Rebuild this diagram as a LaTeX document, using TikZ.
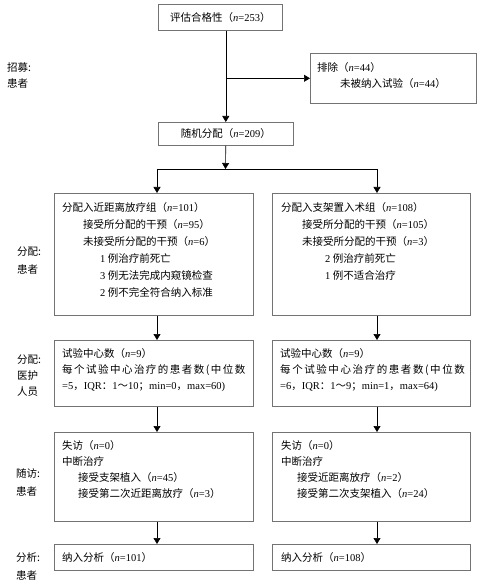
\documentclass[tikz,border=0pt]{standalone}
\usepackage{fontspec}
\setmainfont{Noto Sans CJK SC}
\newfontfamily\latin{Liberation Serif}
\usetikzlibrary{arrows.meta}
\newcommand\nn[1]{{\latin\textit{n}=#1}}
\newcommand\lat[1]{{\latin #1}}

\begin{document}
\begin{tikzpicture}[x=1pt,y=-1pt,
    every node/.style={font=\fontsize{10.5}{16}\selectfont},
    box/.style={draw=black!55,line width=.6pt,inner sep=0pt,anchor=north west},
    txt/.style={inner sep=0pt,align=left,anchor=north west},
    side/.style={inner sep=0pt,align=left,anchor=north west},
    arr/.style={-{Triangle[width=7pt,length=6pt]},line width=.6pt}]
\useasboundingbox (0,0) rectangle (482,585);
% arrow columns
\coordinate (colA) at (157,0);
\coordinate (colB) at (377,0);

% recruitment
\node[box,minimum width=124,minimum height=26] (elig) at (158,4) {评估合格性（\nn{253}）};
\node[box,minimum width=166,minimum height=50] (excl) at (310,53) {};
\node[txt] (excltxt) at ([shift={(7,9)}]excl.north west)
    {排除（\nn{44}）\\ \hspace*{23pt}未被纳入试验（\nn{44}）};
\node[box,minimum width=135,minimum height=23] (rand) at (158,122) {随机分配（\nn{209}）};
\coordinate (split) at (225.5,169);

% allocation
\node[box,minimum width=199,minimum height=122] (allocA) at (54,193) {};
\node[box,minimum width=198,minimum height=122] (allocB) at (272,193) {};
\node[txt,font=\fontsize{10.5}{17}\selectfont] (allocAtxt) at ([shift={(8,9)}]allocA.north west)
    {分配入近距离放疗组（\nn{101}）\\
     \hspace*{21pt}接受所分配的干预（\nn{95}）\\
     \hspace*{21pt}未接受所分配的干预（\nn{6}）\\
     \hspace*{38pt}\lat{1} 例治疗前死亡\\
     \hspace*{38pt}\lat{3} 例无法完成内窥镜检查\\
     \hspace*{38pt}\lat{2} 例不完全符合纳入标准};
\node[txt,font=\fontsize{10.5}{17}\selectfont] (allocBtxt) at ([shift={(9,9)}]allocB.north west)
    {分配入支架置入术组（\nn{108}）\\
     \hspace*{21pt}接受所分配的干预（\nn{105}）\\
     \hspace*{21pt}未接受所分配的干预（\nn{3}）\\
     \hspace*{44pt}\lat{2} 例治疗前死亡\\
     \hspace*{44pt}\lat{1} 例不适合治疗};

% centres
\node[box,minimum width=199,minimum height=66] (centreA) at (54,340) {};
\node[box,minimum width=198,minimum height=66] (centreB) at (272,340) {};
\node[txt] (centreAtxt) at ([shift={(8,8)}]centreA.north west)
    {试验中心数（\nn{9}）\\
     {\addfontfeature{LetterSpace=14}每个试验中心治疗的患者数(中位数}\\
     \lat{=5}，\lat{IQR}：\lat{1}～\lat{10}；\lat{min=0}，\lat{max=60)}};
\node[txt] (centreBtxt) at ([shift={(8,8)}]centreB.north west)
    {试验中心数（\nn{9}）\\
     {\addfontfeature{LetterSpace=15}每个试验中心治疗的患者数(中位数}\\
     \lat{=6}，\lat{IQR}：\lat{1}～\lat{9}；\lat{min=1}，\lat{max=64)}};

% follow-up
\node[box,minimum width=199,minimum height=89] (followA) at (54,432) {};
\node[box,minimum width=198,minimum height=89] (followB) at (272,432) {};
\node[txt] (followAtxt) at ([shift={(8,8)}]followA.north west)
    {失访（\nn{0}）\\ 中断治疗\\
     \hspace*{16pt}接受支架植入（\nn{45}）\\
     \hspace*{16pt}接受第二次近距离放疗（\nn{3}）};
\node[txt] (followBtxt) at ([shift={(9,8)}]followB.north west)
    {失访（\nn{0}）\\ 中断治疗\\
     \hspace*{16pt}接受近距离放疗（\nn{2}）\\
     \hspace*{16pt}接受第二次支架植入（\nn{24}）};

% analysis
\node[box,minimum width=199,minimum height=26] (analysA) at (54,544) {};
\node[box,minimum width=198,minimum height=26] (analysB) at (272,544) {};
\node[txt,anchor=west] (analysAtxt) at ([xshift=8pt]analysA.west) {纳入分析（\nn{101}）};
\node[txt,anchor=west] (analysBtxt) at ([xshift=9pt]analysB.west) {纳入分析（\nn{108}）};

% stage labels
\node[side] (lblRec) at (7,62) {招募:\\患者};
\node[side,font=\fontsize{10.5}{18}\selectfont] (lblAlloc) at (17,247) {分配:\\患者};
\node[side] (lblStaff) at (17,355) {分配:\\医护\\人员};
\node[side,font=\fontsize{10.5}{18}\selectfont] (lblFollow) at (16,468) {随访:\\患者};
\node[side,font=\fontsize{10.5}{18}\selectfont] (lblAnalys) at (16,552) {分析:\\患者};

% connectors
\draw[arr] (elig.south -| rand.north) -- (rand.north);
\draw[arr] (rand.north |- excl.west) -- (excl.west);
\draw[arr] (rand.south) -- (split);
\draw[line width=.6pt] (split -| colA) -- (split -| colB);
\draw[arr] (split -| colA) -- (allocA.north -| colA);
\draw[arr] (split -| colB) -- (allocB.north -| colB);
\draw[arr] (allocA.south -| colA) -- (centreA.north -| colA);
\draw[arr] (allocB.south -| colB) -- (centreB.north -| colB);
\draw[arr] (centreA.south -| colA) -- (followA.north -| colA);
\draw[arr] (centreB.south -| colB) -- (followB.north -| colB);
\draw[arr] (followA.south -| colA) -- (analysA.north -| colA);
\draw[arr] (followB.south -| colB) -- (analysB.north -| colB);
\end{tikzpicture}
\end{document}
